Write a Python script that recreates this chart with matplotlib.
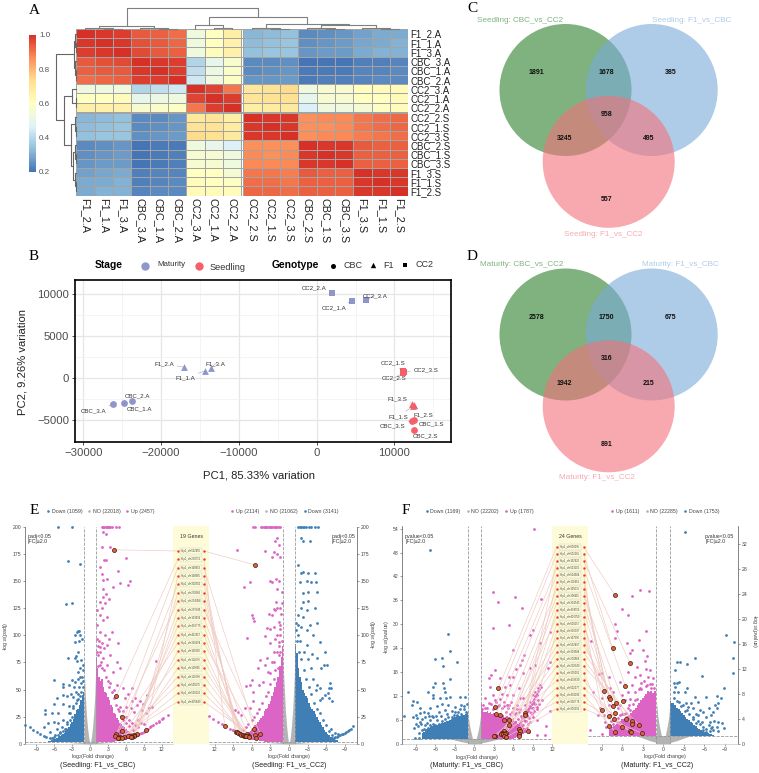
import numpy as np
import matplotlib
matplotlib.use("Agg")
import matplotlib.pyplot as plt
from matplotlib.colors import LinearSegmentedColormap
from matplotlib.patches import Circle, Rectangle

plt.rcParams['font.family'] = ['Liberation Sans', 'DejaVu Sans']
plt.rcParams['mathtext.default'] = 'regular'

W, H = 759, 773

# --- A: correlation heatmap ---
samples = ['F1_2.A', 'F1_1.A', 'F1_3.A', 'CBC_3.A', 'CBC_1.A', 'CBC_2.A', 'CC2_3.A', 'CC2_1.A', 'CC2_2.A',
           'CC2_2.S', 'CC2_1.S', 'CC2_3.S', 'CBC_2.S', 'CBC_1.S', 'CBC_3.S', 'F1_3.S', 'F1_1.S', 'F1_2.S']
corr = [
    [1.00, .99, .98, .94, .93, .91, .53, .60, .67, .32, .33, .34, .24, .25, .26, .28, .30, .30],
    [.99, 1.00, .99, .95, .94, .92, .53, .60, .66, .33, .34, .35, .25, .26, .27, .29, .30, .31],
    [.98, .99, 1.00, .96, .94, .93, .53, .61, .66, .34, .35, .35, .26, .27, .27, .30, .31, .31],
    [.94, .95, .96, 1.00, .99, .98, .39, .50, .57, .24, .24, .25, .20, .20, .20, .22, .22, .23],
    [.93, .94, .94, .99, 1.00, .98, .41, .52, .58, .24, .25, .26, .21, .21, .21, .23, .23, .24],
    [.91, .92, .93, .98, .98, 1.00, .44, .53, .59, .26, .26, .27, .21, .22, .22, .23, .24, .24],
    [.53, .53, .53, .39, .41, .44, 1.00, .97, .90, .70, .72, .74, .53, .56, .56, .60, .61, .62],
    [.60, .60, .61, .50, .52, .53, .97, 1.00, .98, .71, .72, .73, .50, .56, .56, .60, .60, .62],
    [.67, .66, .66, .57, .58, .59, .90, .98, 1.00, .67, .68, .69, .46, .53, .53, .55, .59, .61],
    [.32, .33, .34, .24, .24, .26, .70, .71, .67, 1.00, .99, .99, .86, .87, .87, .90, .91, .92],
    [.33, .34, .35, .24, .25, .26, .72, .72, .68, .99, 1.00, .99, .86, .86, .87, .90, .91, .92],
    [.34, .35, .35, .25, .26, .27, .74, .73, .69, .99, .99, 1.00, .86, .87, .87, .89, .90, .91],
    [.24, .25, .26, .20, .21, .21, .53, .50, .46, .86, .86, .86, 1.00, .99, .99, .94, .93, .93],
    [.25, .26, .27, .20, .21, .22, .56, .56, .53, .87, .86, .87, .99, 1.00, .99, .93, .93, .93],
    [.26, .27, .27, .20, .21, .22, .56, .56, .53, .87, .87, .87, .99, .99, 1.00, .93, .93, .93],
    [.28, .29, .30, .22, .23, .23, .60, .60, .55, .90, .90, .89, .94, .93, .93, 1.00, .99, .99],
    [.30, .30, .31, .22, .23, .24, .61, .60, .59, .91, .91, .90, .93, .93, .93, .99, 1.00, .99],
    [.30, .31, .31, .23, .24, .24, .62, .62, .61, .92, .92, .91, .93, .93, .93, .99, .99, 1.00],
]
# linkage written as (left, right, height), leaves are indices into samples
f1_a = (0, (1, 2, 1), 3)
cbc_a = (3, (4, 5, 1), 2.5)
cc2_a = (6, (7, 8, 2), 12)
cc2_s = (9, (10, 11, 1), 3)
cbc_s = (12, (13, 14, 1), 2.5)
f1_s = (15, (16, 17, 1), 3)
tree = ((f1_a, cbc_a, 8), (cc2_a, (cc2_s, (cbc_s, f1_s, 11), 15), 37), 62)

# --- B: PCA ---
pca_names = ['CC2_2.A', 'CC2_1.A', 'CC2_3.A', 'F1_2.A', 'F1_1.A', 'F1_3.A', 'CBC_2.A', 'CBC_1.A', 'CBC_3.A',
             'CC2_1.S', 'CC2_3.S', 'CC2_2.S', 'F1_3.S', 'F1_1.S', 'F1_2.S', 'CBC_3.S', 'CBC_1.S', 'CBC_2.S']
pca_x = [2000, 4500, 6400, -17000, -14300, -13600, -23800, -24800, -26200,
         11100, 11200, 11100, 12300, 12400, 12500, 12300, 12500, 12500]
pca_y = [10200, 9150, 9350, 1300, 900, 1250, -2750, -2950, -3100,
         850, 750, 600, -3000, -3300, -3200, -5050, -5000, -6100]
pca_off_x = [-17.7, -17.3, 8.3, -20, -20, 4.7, 6.3, 16, -19.7, -10, 22, -9.3, -15, -15, 9.3, -19.7, 17.7, 11.3]
pca_off_y = [4.7, -6.7, 4, 4, -7, 4.3, 5.7, -5.7, -6.3, 8.3, 2.3, -4.7, 4.7, -10.7, -9.3, -4.7, -4, -6]

# --- C, D: Venn counts (green, overlap, blue, centre, green+pink, blue+pink, pink) ---
venn_c = ['1891', '1678', '385', '958', '3245', '495', '557']
venn_d = ['2578', '1750', '675', '316', '1942', '215', '891']

# --- E, F: volcano plots ---
e_genes = ['chr502950', 'chr209712', 'chr108653', 'chr108665', 'chr302055', 'chr203065', 'chr204458',
           'chr207495', 'chr103694', 'chr402775', 'chr412617', 'chr310504', 'chr101065', 'chr112676',
           'chr110656', 'chr110206', 'chr505675', 'chr500520', 'chr405849']
f_genes = ['chr500095', 'chr502185', 'chr102920', 'chr503100', 'chr504584', 'chr110461', 'chr105035',
           'chr306615', 'chr304545', 'chr404555', 'chr400050', 'chr500557', 'chr300397', 'chr107590',
           'chr502407', 'chr303584', 'chr203564', 'chr202040', 'chr305001', 'chr402630', 'chr502077',
           'chr401090', 'chr302776', 'chr300191']

# highlighted genes, listed in label order
e_left_hits = [(4.0, 179), (4.36, 44), (5.36, 25), (9.3, 13), (5.36, 12), (7.8, 9), (4.4, 9.2), (7.3, 8),
               (7.4, 7.4), (6.7, 7.4), (6.4, 7), (4.2, 6.8), (7.1, 6.5), (5, 6.2), (6.8, 6), (5.7, 5.8),
               (4.9, 5.5), (5.3, 5), (4.75, 5)]
e_right_hits = [(5.5, 165), (10.4, 16.3), (5.6, 13.8), (8.65, 10.8), (8.5, 10.5), (8.2, 9.5), (7.95, 9.2),
                (4.65, 9.2), (6.75, 8.6), (7.7, 8.3), (7.4, 8), (5.5, 8), (7.3, 7.4), (7.1, 7.4), (6.65, 7.4),
                (6.5, 7.4), (7, 6.8), (6.5, 6.2), (5.4, 4.9)]
f_left_hits = [(3.7, 14), (3.1, 9.2), (7.75, 7.7), (3.3, 7.4), (3.95, 7.2), (7.75, 7.2), (4.55, 6), (5.4, 6),
               (5.4, 4.7), (6.9, 3.7), (4.6, 3.2), (7, 3.2), (8.2, 3.2), (4.25, 2.8), (4.9, 2.7), (4.1, 2.5),
               (4.45, 2.5), (4.7, 2.5), (6.9, 2.5), (3.1, 2), (4.55, 2), (6.8, 1.9), (3, 1.85), (4.85, 1.6)]
f_right_hits = [(7.05, 23.8), (7.4, 15.3), (4.9, 13), (5.55, 9.3), (8.7, 8.4), (8, 7.5), (7.85, 7.2), (5.9, 6.8),
                (6.9, 6.5), (7.4, 6), (8.95, 5.4), (7, 5), (8, 4.4), (7.2, 4), (5.4, 4), (4.5, 3.6), (4.6, 3.1),
                (3.55, 3), (8, 2.8), (6, 2.7), (4.9, 2), (7, 1.9), (4.7, 1.9), (3.15, 1.7)]

# dense parts of each volcano: |log2FC| position, upper and lower edge of the cloud
no_x = [-1, -.8, -.6, -.4, -.25, -.1, 0, .1, .25, .4, .6, .8, 1]
e_left_no = [72, 45, 26, 14, 7, 2, .6, 2, 7, 14, 28, 45, 78]
e_right_no = [85, 55, 32, 17, 8, 2, .6, 2, 8, 17, 32, 55, 80]
f_left_no = [7.8, 5.2, 3.4, 2, 1.2, .6, .3, .6, 1.2, 2, 3.4, 5.2, 7.8]
f_right_no = [6.8, 4.4, 3, 1.9, 1.1, .6, .3, .6, 1.1, 1.9, 3, 4.4, 6.8]
low_x = [-4.2, -3.5, -3, -2, -1, 0, 1, 2, 3, 3.5, 4.2]
low_floor = [1.3, 1.1, .9, .5, .2, 0, .2, .5, .9, 1.1, 1.3]

band_x = [1, 1.25, 1.5, 1.75, 2, 2.25, 2.5, 2.75, 3, 3.25, 3.5, 3.75, 4, 4.25, 4.5, 4.75,
          5, 5.25, 5.5, 5.75, 6, 6.25, 6.5, 6.75, 7, 7.25, 7.5, 7.75, 8]
e_left_up_top = [80, 70, 62, 58, 60, 52, 48, 47, 43, 40, 36, 34, 28, 27, 24, 22, 19, 18, 16, 15, 14, 12, 12, 10, 10, 9, 8, 7, 7]
e_left_down_top = [48, 45, 40, 36, 32, 31, 27, 23, 20, 18, 15, 14, 12, 10, 9, 8, 7.5, 6, 5, 4.5, 4, 3.5, 3, 2.6, 2.2, 2, 1.7, 1.5, 1.3]
e_right_up_top = [90, 80, 72, 62, 57, 52, 48, 44, 39, 37, 33, 32, 30, 26, 24, 22, 20, 18, 17, 15, 14, 12, 11, 10, 9.5, 8, 7.5, 7, 6.5]
e_right_down_top = [92, 84, 70, 62, 57, 50, 47, 44, 42, 38, 34, 32, 30, 27, 25, 22, 20, 17, 15, 13, 11, 9, 8, 6, 5, 4, 3.5, 3, 2.5]
f_left_up_top = [10, 9, 8, 8, 8.2, 7.6, 8, 7.5, 7.8, 7.4, 7.6, 7.2, 7.7, 7, 7.2, 6.8, 7, 6.6, 6.8, 6.2, 6.4, 5.8, 5.6, 5, 5.2, 4.6, 4.4, 4, 3.6]
f_left_down_top = [7.6, 7.4, 7.3, 7.2, 7.2, 7, 7, 6.9, 6.8, 6.5, 6.2, 6, 5.8, 5.6, 5.4, 5.3, 5.2, 5, 4.9, 4.8, 4.7, 4.5, 4.4, 4.2, 4, 3.7, 3.4, 3, 2.7]
f_right_up_top = [8.6, 8.4, 8.2, 8.4, 8.3, 8.5, 8, 7.6, 7.4, 7, 6.6, 6.2, 5.7, 5.4, 5.2, 5, 4.6, 4.4, 4.2, 4, 4, 3.6, 3.4, 3.2, 3, 2.8, 2.6, 2.3, 2]
f_right_down_top = [6.8, 6.6, 6.5, 6.2, 5.7, 5.5, 5.2, 4.9, 4.6, 4.3, 4, 3.8, 3.5, 3.3, 3, 2.8, 2.5, 2.4, 2.2, 2.1, 1.9, 1.8, 1.7, 1.6, 1.5, 1.4, 1.3, 1.3, 1.3]
flat_floor = [1.3] * 29
e_up_floor = [1.3, 1.3, 1.3, 1.3, 1.3, 1.3, 1.3, 1.3, 1.3, 1.4, 1.6, 1.8, 2, 2.2, 2.5, 2.7, 3, 3.2, 3.4, 3.6, 3.8, 4, 4.3, 4.6, 5, 5.4, 5.8, 6, 6.3]
f_left_up_floor = [1.3, 1.3, 1.3, 1.3, 1.3, 1.3, 1.3, 1.3, 1.3, 1.3, 1.3, 1.3, 1.3, 1.3, 1.3, 1.3, 1.3, 1.3, 1.3, 1.3, 1.3, 1.5, 1.7, 1.9, 2, 2.2, 2.4, 2.6, 2.8]

# sparse genes above the dense clouds
e_left_down = [(-5.4, 200), (-3, 200), (-3.7, 168.6), (-1.7, 166), (-4.1, 128.6), (-3, 130), (-2.2, 103), (-2, 104),
               (-1.8, 104), (-2.5, 100), (-1.7, 100), (-2.5, 94), (-1.8, 95), (-1.4, 97), (-2, 85), (-2.4, 81),
               (-2.6, 79), (-3.7, 79), (-2.2, 76), (-1.55, 77.5), (-1.1, 72.6), (-1.7, 69.5), (-2, 66), (-6.1, 59),
               (-1.2, 68), (-1.7, 62), (-2.1, 60), (-3.1, 59), (-4.6, 55), (-4.6, 52.6), (-3.6, 54), (-2.5, 57),
               (-2.7, 52.6), (-4.5, 45), (-3.9, 44), (-3.2, 45.5), (-5.5, 42), (-2.3, 48), (-2.9, 43), (-6, 37),
               (-7.5, 31), (-7.5, 27), (-6.3, 28), (-5.3, 28), (-4.5, 37), (-3.6, 35), (-2.2, 40), (-10.9, 17),
               (-10, 15), (-9.5, 12.6), (-8.9, 11), (-8.4, 9.2), (-7.8, 7.4), (-7.3, 5.8), (-6.7, 5), (-7.8, 15.7),
               (-7, 18.8), (-6.1, 20), (-5.3, 18.8), (-4.5, 21.8), (-6.7, 11), (-5.6, 14), (-4.7, 15.7), (-3.9, 20),
               (-3.1, 25), (-5.9, 8), (-5, 9.5), (-4, 14), (-3.6, 28), (-2.8, 32.6),
               (-1.3, 62), (-1.5, 56), (-1.8, 52), (-2.1, 46), (-2.4, 38), (-2.8, 35), (-3.3, 28), (-3.4, 22), (-3.8, 18),
               (-4.2, 14), (-4.5, 12), (-5, 11), (-5.4, 8), (-6, 6), (-6.4, 5), (-1.1, 58), (-1.5, 48), (-1.2, 52),
               (-1.7, 44), (-2, 41)]
e_left_up = [(2, 200), (2.2, 200), (2.4, 200), (2.6, 200), (2.8, 200), (3, 200), (3.2, 200), (3.4, 200), (3.6, 200),
             (4.4, 200), (4.8, 200), (2.2, 195), (2.7, 194), (2, 182), (3.35, 182), (6, 171.7), (2.3, 169.5),
             (2.7, 170), (1.7, 163), (2, 157), (4.75, 159), (6.7, 150), (6.4, 146.5), (2.2, 151), (2.9, 152),
             (5, 148), (3.9, 145), (2.2, 143), (2.7, 138), (2.2, 135.7), (3.1, 134), (1.7, 131), (2.5, 129.5),
             (2, 125), (1.2, 123), (1.7, 119), (2.8, 117), (2.1, 114), (3.6, 103), (4.75, 92.6), (1.7, 103),
             (1.1, 97), (2.5, 100), (3.2, 97), (1.7, 89.5), (2.8, 91), (1.4, 82), (2.2, 79), (3.35, 82), (4.5, 75.7),
             (5.1, 69.5), (11, 76.6), (2.8, 72.6), (3.9, 66), (1.7, 72.6), (6.4, 45.5), (5.6, 51), (4.5, 54), (7, 51),
             (7.5, 42), (8.4, 39), (9.5, 45), (10.3, 34), (9.8, 32.6), (8.7, 31), (9.4, 28), (7.8, 35.7), (8.9, 37),
             (7, 39), (6.1, 34), (7.4, 29.5), (5.9, 42), (6.8, 32.6), (13, 26.5), (12.3, 23.4), (11.6, 20.3),
             (7, 6), (7.5, 7), (8, 8), (8.5, 9.5), (9, 11), (9.5, 13), (10, 15), (10.5, 17), (11, 19.5), (11.5, 21),
             (12, 23), (7.25, 6.5), (7.75, 7.5), (8.25, 8.7), (8.75, 10.2), (9.25, 12), (9.75, 14), (10.25, 16),
             (1.3, 90), (1.6, 85), (1.2, 110), (1.1, 85), (1.8, 75), (2.4, 68), (1.5, 95), (2, 93), (2.3, 88), (1.4, 72),
             (2, 70), (2.6, 62), (3, 58), (3.2, 52), (3.6, 48), (4, 42), (4.4, 36), (4.8, 30), (5.2, 26), (5.6, 22),
             (6, 19), (6.6, 16), (7.2, 13), (4.6, 32), (5.5, 30), (3.4, 56), (4, 50), (5, 34), (6, 25), (6.5, 22), (7, 19),
             (7.5, 17), (8, 15), (8.5, 19), (8, 22), (9, 18)]
e_right_up = [(4.3, 200), (4.1, 200), (3.9, 200), (3.7, 200), (3.5, 200), (3.3, 200), (3.1, 200), (2.9, 200), (2.7, 200),
              (2.5, 200), (2.3, 200), (2.1, 200), (1.9, 200), (1.7, 200), (1.5, 200), (5.5, 200), (5.8, 200), (4.6, 200),
              (8.4, 179), (3.9, 178), (1.9, 190), (1.7, 183), (2.2, 187), (2, 175), (1.5, 172), (7.3, 144.6), (6.3, 149),
              (2.75, 172), (2.4, 177), (3, 150), (2.8, 149), (2.1, 152), (1.7, 150), (2, 143), (2.1, 131), (1.9, 125),
              (2.5, 124), (2.3, 123), (3.2, 120), (2.8, 119), (6, 119), (5.9, 115.7), (5.7, 113), (3.5, 107), (3.1, 106),
              (2.5, 108), (3.9, 99), (6.75, 98), (1.5, 106), (1.5, 100), (1.7, 94), (2.3, 97), (3.1, 92.6), (2.5, 85),
              (1.7, 82), (4.7, 77), (3.6, 79), (2.8, 75.7), (5, 70), (3.9, 72.6), (6, 59), (6.3, 54), (7, 53.5), (5.8, 48),
              (4.8, 54), (4.2, 57), (3.4, 66), (5.8, 39), (6.3, 32.6), (7.1, 32.6), (8.2, 29), (8.8, 31), (7.7, 26.5),
              (12.9, 26), (12.3, 23), (11.5, 19.7), (10.8, 17.8), (9.6, 14), (9, 12.6), (8.5, 11), (8, 9.5), (7.5, 8),
              (1.2, 95), (1.4, 110), (1.3, 120), (1.1, 130), (1.5, 125), (1.2, 140), (1.6, 90), (2, 85), (1.4, 85), (1.8, 70),
              (2.2, 68), (2.5, 60), (3, 55), (3.4, 48), (3.8, 44), (4.3, 38), (4.8, 32), (5.2, 28), (5.6, 25), (6, 22),
              (6.6, 18), (7, 15), (7.4, 13), (8, 11), (9, 13), (2, 100), (1.7, 112), (2.4, 75), (3, 65)]
e_right_down = [(-1.5, 200), (-1.8, 200), (-2, 200), (-2.2, 200), (-2.5, 200), (-2.8, 200), (-3.2, 200), (-3.5, 200),
                (-4.2, 200), (-4.7, 200), (-1.9, 189.5), (-2.3, 187), (-3.4, 187), (-1.5, 165), (-2, 158), (-2.3, 158.8),
                (-3.1, 158), (-4.2, 158), (-1.8, 149), (-2.9, 150), (-3.5, 149), (-4.3, 149), (-2.2, 139), (-3, 139.7),
                (-4.5, 139.7), (-2.3, 130.5), (-3.1, 131.7), (-2, 125), (-2.9, 123), (-4.2, 125), (-1.5, 119), (-2.3, 117),
                (-1.2, 111), (-2, 108), (-3.4, 109.5), (-4.5, 111), (-2.9, 105), (-1.5, 100), (-3.9, 100), (-5, 94),
                (-5.8, 85), (-2.9, 91), (-3.7, 83), (-4.5, 79), (-5.6, 72.6), (-5.1, 69.5), (-6.1, 73), (-6.6, 55.7),
                (-6.4, 51), (-6.8, 51), (-6.3, 46.5), (-5.8, 45), (-5.3, 42), (-6.5, 42), (-6.9, 39), (-5, 51), (-4.5, 54),
                (-6, 3.5), (-6.5, 4), (-7, 5), (-7.5, 6), (-8, 7), (-8.5, 8.5), (-9, 10), (-9.5, 12), (-10, 14), (-10.3, 16),
                (-7.25, 5.5), (-7.75, 6.5), (-8.25, 7.7), (-8.75, 9.2), (-9.25, 11), (-9.75, 13),
                (-1.3, 95), (-1.6, 85), (-2, 78), (-2.4, 68), (-2.8, 60), (-3.2, 52), (-3.5, 46), (-4, 38), (-4.5, 32), (-5, 28),
                (-5.5, 22), (-6, 17), (-6.5, 12), (-1.2, 105), (-1.8, 95), (-2.5, 85), (-3, 78), (-3.5, 70), (-1.5, 110), (-7, 8),
                (-7.4, 10), (-6.8, 14), (-8, 9), (-3.8, 60), (-4.4, 50), (-5, 40)]
f_left_down = [(-6.8, 48.7), (-4.1, 27.6), (-3.7, 23.2), (-6, 21.2), (-5, 21.6), (-4.8, 19.6), (-2.7, 20.6), (-3.7, 16.2),
               (-7.2, 13), (-10.2, 12.9), (-6.3, 14.3), (-6, 15.2), (-4.9, 15.2), (-4.7, 13.9), (-4.5, 13), (-6.3, 12.2),
               (-6.4, 11.4), (-5.3, 11.4), (-4.4, 11.4), (-3.8, 11.8), (-2.2, 11.8), (-1.4, 11.8), (-9.4, 10.7), (-8.8, 10.5),
               (-9.6, 9.7), (-8.3, 8.9), (-10.9, 7), (-9.4, 6.8), (-9, 7.2), (-8.4, 7.6), (-7.8, 8), (-6.8, 8.9), (-5.8, 9.5),
               (-5, 9.9), (-4, 9.7), (-3, 9.3), (-2, 9.7), (-1.2, 10), (-7.6, 6.8), (-7.1, 7.6), (-8.4, 5.5), (-7.6, 4.7),
               (-6.8, 6), (-6.3, 6.8), (-5.5, 8), (-4.5, 8.5), (-3.5, 8.2), (-2.5, 8), (-7.1, 3), (-6.6, 3.9), (-6, 4.7),
               (-9.1, 1.5), (-8.6, 1.5), (-8.1, 6.2), (-7.3, 5.2), (-8.8, 6.4), (-5.9, 7), (-5.1, 7), (-4.2, 7.4), (-3.2, 7.3),
               (-2.2, 8.6), (-1.6, 8.7), (-6.4, 5), (-7.8, 3.6), (-7.2, 4), (-8.7, 4.5),
               (-6.5, 3), (-7, 3.3), (-7.5, 3), (-8, 3.4), (-8.5, 2.8), (-7.7, 2.4), (-9.3, 4), (-9, 5), (-8.2, 5), (-6.6, 7),
               (-7, 7), (-5.7, 6), (-5, 5.6), (-4.5, 6.3), (-4, 6.6), (-3.4, 6.6), (-3, 8), (-2.6, 7.2), (-2, 7.4), (-1.3, 8),
               (-1.6, 9.4), (-5.4, 5), (-6.2, 4.4), (-6.8, 4.8), (-5.5, 3.8)]
f_left_up = [(9.2, 53.8), (2.9, 38.2), (3.7, 35.6), (6.3, 36.9), (7.4, 34), (10.3, 36.3), (2.9, 29.1), (5.3, 29.7), (9, 28.6),
             (8.6, 27.3), (10.1, 25.4), (5.9, 23.5), (11.7, 28.1), (7.6, 22.3), (7.3, 21), (7, 19.8), (6.4, 18.8), (3.1, 18.6),
             (2.5, 17.3), (2.3, 16.4), (3.9, 16.6), (5.3, 16.8), (8.6, 18.9), (9.4, 19.8), (11.6, 20.6), (11.4, 18.9),
             (7.5, 17.7), (6, 16.8), (10.1, 14.7), (9.8, 13.9), (9.4, 13), (9, 12.2), (9.6, 12.2), (8.5, 10.5), (9.2, 10.1),
             (8.8, 8.9), (9.6, 9.3), (11.7, 8.2), (11.1, 4.5), (10.8, 2.3), (9.7, 2.3), (1.6, 11.4), (2.9, 12.2), (4.2, 12.6),
             (2.4, 14.3), (4.7, 14.3), (5.5, 14.7), (6.8, 13.9), (4.5, 10.5), (5.7, 10.5), (7, 11.4), (6.5, 9.7), (7.8, 9.7),
             (1.4, 9.7), (2.2, 10.1), (3.4, 10.5), (5, 12.2), (6, 12.2), (8.05, 7.2), (8.6, 5.5), (9.1, 6.8), (9.6, 5.9),
             (7.5, 4.7), (8.05, 3.9), (7.5, 11.4), (5.2, 8.9), (4.2, 8.9), (6.8, 8), (7.2, 7), (6.2, 7.5), (5.5, 7.5), (8.3, 8.6),
             (7.7, 6), (6.7, 6.2), (2, 9), (3, 9), (3.8, 9.7), (4.8, 8), (8.9, 7.6), (8.2, 5), (7.4, 3.4), (8.4, 3), (7.9, 8.4),
             (6.5, 3.8), (6.8, 4.6), (7, 5.2), (7.2, 5.8), (7.4, 6.5), (7.6, 6.8), (7.8, 7.2), (8, 7.8), (8.2, 8.3), (8.4, 9),
             (8.6, 9.4), (8.8, 10), (9, 10.6), (9.2, 11.2), (9.4, 12), (9.6, 12.6), (9.8, 13.2), (10, 13.8), (10.2, 14.3),
             (8, 5.6), (8.4, 6.4), (8.8, 7.4), (9.2, 8.2), (9.6, 8.8), (10, 10), (10.4, 11), (7.4, 4.8), (7.8, 5.6), (8.2, 6.6),
             (8.6, 8), (9, 9), (9.4, 10), (9.8, 11), (1.6, 9), (2.5, 10), (3.2, 11), (4, 11.2), (4.6, 9.4), (5.4, 9.8), (6, 9),
             (6.6, 8.6), (1.2, 8.6), (2.8, 8.8), (3.6, 9.4), (5, 9.6), (5.8, 8), (6.4, 7.6), (7, 8.6)]
f_right_up = [(3.4, 24.7), (2.1, 24.4), (4.6, 23.7), (6.1, 21.6), (5.1, 20.6), (7, 19.2), (6.8, 18.1), (2.6, 18), (10.6, 16.5),
              (3.5, 16.6), (5.3, 16.1), (7, 17), (3, 15), (4.5, 15), (4.8, 14.5), (2.4, 14), (2.7, 13.2), (3.8, 12.3), (2.5, 12),
              (1.9, 11.8), (9.4, 11.2), (9, 11.3), (7.9, 10.7), (5.1, 11.5), (4.1, 10.7), (3.4, 11), (2.2, 10.7), (1.5, 10.5),
              (6.3, 9.9), (7.8, 8.9), (4.6, 9.4), (3.2, 9.7), (10.2, 8.3), (9, 7.3), (7.3, 8.3), (6.1, 7.8), (5.1, 8.3), (4.1, 8.3),
              (6.3, 6.2), (10.7, 2.2), (8.9, 1.6), (8.5, 3.5), (9.5, 4.6), (7.8, 4.6), (9.2, 5.7), (8, 6.2), (6.6, 5.7), (8.3, 2.7),
              (7.5, 2.5), (6.3, 4.6), (6.3, 1.9), (5.6, 7), (4.8, 7.2), (3.6, 8.8), (2.6, 9.2), (1.8, 9), (5.2, 5.8), (6.8, 3.4),
              (5.9, 3.4), (7.2, 2.2), (5.7, 4.8), (8.7, 4.6),
              (2, 9.5), (2.8, 10), (3.2, 8.8), (1.3, 9), (3.8, 7.2), (4.4, 6.4), (4.8, 5.4), (5.4, 5), (6, 4.8), (6.6, 4.2), (7.4, 3.2),
              (7.7, 3.7), (4.2, 7), (3.4, 9), (2.4, 9.4), (1.6, 9.5), (5, 6.2), (6.3, 3.2), (7, 2.7)]
f_right_down = [(-3.1, 33.9), (-9.2, 17.5), (-10.3, 16.3), (-10.2, 13.8), (-10.1, 11.3), (-3.4, 12.8), (-2, 13.1), (-2.5, 13.1),
                (-4.6, 13.7), (-1.7, 11.8), (-5.7, 10.8), (-8.9, 9), (-1.5, 9.8), (-2, 9.7), (-2.3, 9.9), (-1.7, 9.1), (-3.4, 8.9),
                (-3.2, 8.3), (-2.2, 8.3), (-1.5, 8.3), (-1.5, 7.3), (-2.3, 6.7), (-4.6, 7.5), (-5.1, 6.7), (-6.3, 7.5), (-7.8, 7.6),
                (-8.4, 7.4), (-8, 6.5), (-7.5, 6.2), (-7.8, 5.7), (-7.3, 5.1), (-6.6, 5.7), (-5.8, 5.1), (-5.4, 5.4), (-4.4, 5.7),
                (-3.6, 5.9), (-2.9, 6.2), (-6.3, 4.3), (-5.6, 3.5), (-6.8, 3.5), (-8, 3.5), (-8.5, 3.3), (-7.8, 2.7), (-7.1, 2.7),
                (-6.6, 3), (-5.8, 2.7), (-8.8, 2.5), (-8, 2), (-7.3, 2.2), (-6.3, 1.9), (-5.1, 4.6), (-4.4, 4.3), (-3.3, 6.6),
                (-4, 6.5), (-5, 3.6), (-2, 6.8), (-2.6, 6), (-3.4, 5.4), (-3.8, 4.7), (-4.3, 4), (-4.8, 3.3), (-5.3, 3.1), (-5.8, 2.2),
                (-6.2, 2.3), (-6.8, 2), (-7, 2.5), (-4.8, 4.8), (-3.2, 5.2), (-7.4, 3.6), (-6.9, 4.6)]

BLUE, MAGENTA, GREY, BAND = '#3f7fb5', '#dc64c4', '#b3b3b3', '#fefbd8'
HIT_FACE, HIT_EDGE, LINK = '#e2603a', '#3a1a10', '#efc9c0'

fig = plt.figure(figsize=(W / 100, H / 100), dpi=100)


def px_axes(x0, y0, x1, y1, **kw):
    # axes placed by pixel box, y counted from the top of the figure
    return fig.add_axes([x0 / W, 1 - y1 / H, (x1 - x0) / W, (y1 - y0) / H], **kw)


under = px_axes(0, 0, W, H, zorder=-1)
under.set_xlim(0, W)
under.set_ylim(H, 0)
under.axis('off')
over = px_axes(0, 0, W, H, zorder=20)
over.set_xlim(0, W)
over.set_ylim(H, 0)
over.axis('off')
over.patch.set_alpha(0)

for letter, lx, ly in [('A', 34, 10), ('B', 34, 256.7), ('C', 472, 9), ('D', 472, 256.7), ('E', 34.3, 510.7), ('F', 405.7, 510.7)]:
    over.text(lx, ly, letter, family='Liberation Serif', fontsize=11, ha='center', va='center', color='black')

# ---------- A ----------
colors_rdylbu = ['#4575b4', '#91bfdb', '#e0f3f8', '#ffffbf', '#fee090', '#fc8d59', '#d73027']
cmap_heat = LinearSegmentedColormap.from_list('rdylbu_r', colors_rdylbu)
GAP = 0.11
edges = np.r_[np.arange(10), np.arange(9, 19) + GAP]
# a narrow masked row and column split the clusters
grid = np.insert(np.insert(np.array(corr, dtype=float), 9, np.nan, axis=0), 9, np.nan, axis=1)
grid = np.ma.masked_invalid(grid)
ax_heat = px_axes(76.3, 29, 408.3, 195.7)
mesh = ax_heat.pcolormesh(edges, edges, grid, cmap=cmap_heat, vmin=0.2, vmax=1.0, edgecolors='#a3a3a3', linewidth=0.6)
ax_heat.set_xlim(edges[0], edges[-1])
ax_heat.set_ylim(edges[-1], edges[0])
centers = np.r_[np.arange(9) + .5, np.arange(9, 18) + .5 + GAP]
ax_heat.set_xticks(centers, samples, rotation=270, fontsize=7.8, color='#222222')
ax_heat.yaxis.tick_right()
ax_heat.set_yticks(centers, samples, fontsize=7, color='#222222')
ax_heat.tick_params(length=0, pad=1.5)
for s in ax_heat.spines.values():
    s.set_visible(False)

cax = px_axes(29, 34.7, 35.5, 172)
cb = fig.colorbar(mesh, cax=cax, ticks=[.2, .4, .6, .8, 1.0])
cb.outline.set_visible(False)
cb.ax.tick_params(length=0, labelsize=5.8, labelcolor='#555555', pad=2.5)


def tree_segments(node, segs):
    if not isinstance(node, tuple):
        return centers[node], 0
    a, ha = tree_segments(node[0], segs)
    b, hb = tree_segments(node[1], segs)
    h = node[2]
    segs.append(([a, a, b, b], [ha, h, h, hb]))
    return (a + b) / 2, h


links = []
tree_segments(tree, links)
ax_top = px_axes(76.3, 8.3, 408.3, 29)
ax_top.set_xlim(edges[0], edges[-1])
ax_top.set_ylim(0, 62)
ax_left = px_axes(56, 29, 76.3, 195.7)
ax_left.set_xlim(62, 0)
ax_left.set_ylim(edges[-1], edges[0])
for lx, ly in links:
    ax_top.plot(lx, ly, color='#7f7f7f', lw=0.8, clip_on=False)
    ax_left.plot(ly, lx, color='#666666', lw=0.8, clip_on=False)
ax_top.axis('off')
ax_left.axis('off')

# ---------- B ----------
ax_pca = px_axes(75.3, 280, 450.7, 442)
ax_pca.set_xlim(-31030, 17224)
ax_pca.set_ylim(-7583, 11702)
ax_pca.set_axisbelow(True)
ax_pca.set_xticks(np.arange(-30000, 10001, 10000))
ax_pca.set_yticks(np.arange(-5000, 10001, 5000))
ax_pca.set_xticks(np.arange(-25000, 15001, 10000), minor=True)
ax_pca.set_yticks(np.arange(-2500, 10000, 5000), minor=True)
ax_pca.grid(True, which='major', color='#e6e6e6', lw=0.9)
ax_pca.grid(True, which='minor', color='#f0f0f0', lw=0.5)
ax_pca.tick_params(which='minor', length=0)
ax_pca.tick_params(which='major', labelsize=8.2, labelcolor='#4d4d4d', color='#333333', length=2.5, width=0.6, pad=2)
for s in ax_pca.spines.values():
    s.set_linewidth(1.2)
for nm, px_, py_, ox, oy in zip(pca_names, pca_x, pca_y, pca_off_x, pca_off_y):
    col = '#8f96cc' if nm.endswith('.A') else '#f7606a'
    mk = {'CBC': 'o', 'F1_': '^', 'CC2': 's'}[nm[:3]]
    ax_pca.scatter(px_, py_, s=24, c=col, marker=mk, linewidths=0, zorder=3)
    ax_pca.annotate(nm, (px_, py_), xytext=(ox * .72, oy * .72), textcoords='offset points', fontsize=4.4,
                    ha='center', va='center', color='#333333', zorder=4,
                    arrowprops=dict(arrowstyle='-', lw=0.25, color='#777777', shrinkA=0, shrinkB=1))
over.text(259.3, 476, 'PC1, 85.33% variation', fontsize=8.1, ha='center', va='center', color='#222222')
over.text(22.7, 361.7, 'PC2, 9.26% variation', fontsize=8.1, ha='center', va='center', rotation=90, color='#222222')

over.text(109, 265, 'Stage', fontsize=7.4, fontweight='bold', ha='center', va='center')
over.text(295.7, 265, 'Genotype', fontsize=7.4, fontweight='bold', ha='center', va='center')
over.scatter([145.3], [265.7], s=36, c='#8f96cc', linewidths=0)
over.scatter([199.3], [265.7], s=36, c='#f7606a', linewidths=0)
over.text(171.3, 265, 'Maturity', fontsize=5.7, ha='center', va='center', color='#333333')
over.text(227.7, 267, 'Seedling', fontsize=6.6, ha='center', va='center', color='#333333')
over.scatter([332.7], [265.7], s=13, c='black', marker='o', linewidths=0)
over.scatter([372.7], [265], s=15, c='black', marker='^', linewidths=0)
over.scatter([405], [265], s=11, c='black', marker='s', linewidths=0)
over.text(353, 265.7, 'CBC', fontsize=6.5, ha='center', va='center', color='#333333')
over.text(388.3, 265.7, 'F1', fontsize=6.5, ha='center', va='center', color='#333333')
over.text(424.3, 264.3, 'CC2', fontsize=6.5, ha='center', va='center', color='#333333')


# ---------- C, D ----------
def draw_venn(top, counts, titles, title_pos):
    r = 66
    under.add_patch(Circle((565.5, top), r, fc='#2a7f2a', ec='none', alpha=.6))
    under.add_patch(Circle((651.7, top), r, fc='#78aad9', ec='none', alpha=.6))
    under.add_patch(Circle((608.7, top + 71.8), r, fc='#f3717b', ec='none', alpha=.6))
    spots = [(536.3, -17.3), (606, -17.3), (670.3, -17.3), (607, 24), (564.3, 49), (648.3, 49), (607, 109.7)]
    for txt, (sx, dy) in zip(counts, spots):
        over.text(sx, top + dy, txt, fontsize=5, fontweight='bold', ha='center', va='center', color='#111111')
    title_cols = ['#7fb27f', '#aeccE8', '#f8aab0']
    for txt, (tx, ty), tc in zip(titles, title_pos, title_cols):
        over.text(tx, ty, txt, fontsize=5.9, ha='center', va='center', color=tc)


draw_venn(90, venn_c, ['Seedling: CBC_vs_CC2', 'Seedling: F1_vs_CBC', 'Seedling: F1_vs_CC2'],
          [(520.3, 20), (691.3, 20), (603.7, 234.3)])
draw_venn(334.5, venn_d, ['Maturity: CBC_vs_CC2', 'Maturity: F1_vs_CBC', 'Maturity: F1_vs_CC2'],
          [(521.7, 264), (680, 264), (596.7, 477.7)])


# ---------- E, F ----------
def draw_volcano(box, xlim, ylim, yticks, side, no_top, up_top, up_floor, down_top, up_pts, down_pts, hits, dot_x, rows):
    ax = px_axes(*box, zorder=5)
    ax.patch.set_alpha(0)
    ax.set_xlim(*xlim)
    ax.set_ylim(*ylim)
    up_x = np.array(band_x)
    down_x = -up_x
    # values under the p threshold sit in a low grey wedge
    ax.fill_between(low_x, low_floor, 1.3, color=GREY, lw=0, zorder=1)
    ax.fill_between(no_x, 0, no_top, color=GREY, lw=0, zorder=1)
    ax.fill_between(up_x, up_floor, up_top, color=MAGENTA, lw=0, step='mid', zorder=2)
    ax.fill_between(down_x, flat_floor, down_top, color=BLUE, lw=0, step='mid', zorder=2)
    ax.scatter(*zip(*up_pts), s=4, c=MAGENTA, linewidths=0, zorder=3, clip_on=False)
    ax.scatter(*zip(*down_pts), s=4, c=BLUE, linewidths=0, zorder=3, clip_on=False)
    for v in (-1, 1):
        ax.axvline(v, color='#999999', ls='--', lw=0.6, zorder=4)
    ax.axhline(1.3, color='#999999', ls='--', lw=0.6, zorder=4)
    # connector from each label dot to its gene
    fig.canvas.draw()
    to_data = ax.transData.inverted()
    for (hx, hy), row_y in zip(hits, rows):
        disp = over.transData.transform((dot_x, row_y))
        dx, dy = to_data.transform(disp)
        ax.plot([dx, hx], [dy, hy], color=LINK, lw=0.45, clip_on=False, zorder=5)
    ax.scatter(*zip(*hits), s=8.5, c=HIT_FACE, edgecolors=HIT_EDGE, linewidths=0.5, zorder=6, clip_on=False)
    ax.set_yticks(yticks)
    ax.set_xticks([t for t in [-9, -6, -3, 0, 3, 6, 9, 12] if min(xlim) <= t <= max(xlim)])
    ax.tick_params(labelsize=3.7, length=1.5, width=0.4, pad=1, color='#555555', labelcolor='#444444')
    for name in ('top', 'right', 'left', 'bottom'):
        ax.spines[name].set_visible(False)
    ax.spines[side].set_visible(True)
    ax.spines[side].set_linewidth(0.5)
    ax.spines[side].set_color('#555555')
    ax.spines['bottom'].set_visible(True)
    ax.spines['bottom'].set_linewidth(0.4)
    ax.spines['bottom'].set_color('#bbbbbb')
    if side == 'right':
        ax.yaxis.tick_right()
    return ax


def draw_band(x0, x1, title, genes, first, step):
    under.add_patch(Rectangle((x0, 526), x1 - x0, 217.7, fc=BAND, ec='none'))
    over.text((x0 + x1) / 2, 536, title, fontsize=3.8, ha='center', va='center', color='#333333')
    ys = [first + step * i for i in range(len(genes))]
    left, right = x0 + 4.5, x1 - 4.8
    for name, y in zip(genes, ys):
        over.text((left + right) / 2, y, 'Hap1_' + name, fontsize=1.9, ha='center', va='center', color='#444444',
                  bbox=dict(fc='none', ec='#c4c4c4', lw=0.25, pad=0.7))
    over.scatter([left] * len(ys), ys, s=3, c='#ee3b24', linewidths=0)
    over.scatter([right] * len(ys), ys, s=3, c='#ee3b24', linewidths=0)
    return left, right, ys


def legend_row(items, y=511):
    for dot_x, label, col in items:
        over.scatter([dot_x], [y], s=3.5, c=col, linewidths=0)
        over.text(dot_x + 3.4, y, label, fontsize=3.8, ha='left', va='center', color='#444444')


e_l, e_r, e_rows = draw_band(173.3, 208.7, '19 Genes', e_genes, 551, 8.37)
f_l, f_r, f_rows = draw_band(552.3, 588.3, '24 Genes', f_genes, 546.7, 7.04)

draw_volcano((25, 527, 173.3, 743.7), (-10.9, 13.95), (0, 200), [0, 25, 50, 75, 100, 125, 150, 175, 200], 'left',
             e_left_no, e_left_up_top, e_up_floor, e_left_down_top, e_left_up, e_left_down, e_left_hits, e_l, e_rows)
draw_volcano((208.7, 527, 357, 743.7), (13, -11), (0, 200), [0, 25, 50, 75, 100, 125, 150, 175, 200], 'right',
             e_right_no, e_right_up_top, e_up_floor, e_right_down_top, e_right_up, e_right_down, e_right_hits, e_r, e_rows)
draw_volcano((402.3, 526, 552.3, 743.7), (-11.1, 12), (0, 54.67), [0, 6, 12, 18, 24, 30, 36, 42, 48, 54], 'left',
             f_left_no, f_left_up_top, f_left_up_floor, f_left_down_top, f_left_up, f_left_down, f_left_hits, f_l, f_rows)
draw_volcano((588.3, 526, 738, 743.7), (10.95, -10.9), (0, 34.9), [0, 4, 8, 12, 16, 20, 24, 28, 32], 'right',
             f_right_no, f_right_up_top, flat_floor, f_right_down_top, f_right_up, f_right_down, f_right_hits, f_r, f_rows)

legend_row([(48.3, 'Down (1059)', BLUE), (89.3, 'NO (22018)', GREY), (127.3, 'Up (2457)', MAGENTA)])
legend_row([(232.3, 'Up (2114)', MAGENTA), (266.3, 'NO (21062)', GREY), (304.7, 'Down (3141)', BLUE)])
legend_row([(426.7, 'Down (1169)', BLUE), (468, 'NO (22202)', GREY), (506.3, 'Up (1787)', MAGENTA)])
legend_row([(612.3, 'Up (1611)', MAGENTA), (646.7, 'NO (22285)', GREY), (685.3, 'Down (1753)', BLUE)])

xlab = r'log$_2$(Fold change)'
for x_, y_ in [(93, 756.7), (289, 756.7), (476.7, 757.3), (665, 756.7)]:
    over.text(x_, y_, xlab, fontsize=3.9, ha='center', va='center', color='#444444')
for x_, txt in [(98, '(Seedling: F1_vs_CBC)'), (289, '(Seedling: F1_vs_CC2)'),
                (466.3, '(Maturity: F1_vs_CBC)'), (657.3, '(Maturity: F1_vs_CC2)')]:
    over.text(x_, 765.3, txt, fontsize=5.1, ha='center', va='center', color='#222222')
for x_, y_, txt, rot in [(6, 636.7, r'-log$_{10}$(padj)', 90), (374, 635, r'-log$_{10}$(padj)', 90),
                         (386.7, 636.7, r'-log$_{10}$(pvalue)', 90), (754, 631.7, r'-log$_{10}$(pvalue)', 270)]:
    over.text(x_, y_, txt, fontsize=3.9, ha='center', va='center', rotation=rot, color='#444444')
for x_, y_, txt in [(27.3, 539, 'padj<0.05\n|FC|≥2.0'), (331.3, 539, 'padj<0.05\n|FC|≥2.0'),
                    (405, 539, 'pvalue<0.05\n|FC|≥2.0'), (705, 539, 'pvalue<0.05\n|FC|≥2.0')]:
    over.text(x_, y_, txt, fontsize=3.8, ha='left', va='center', color='#333333', linespacing=1.15)

fig.savefig('out.png', dpi=100)
